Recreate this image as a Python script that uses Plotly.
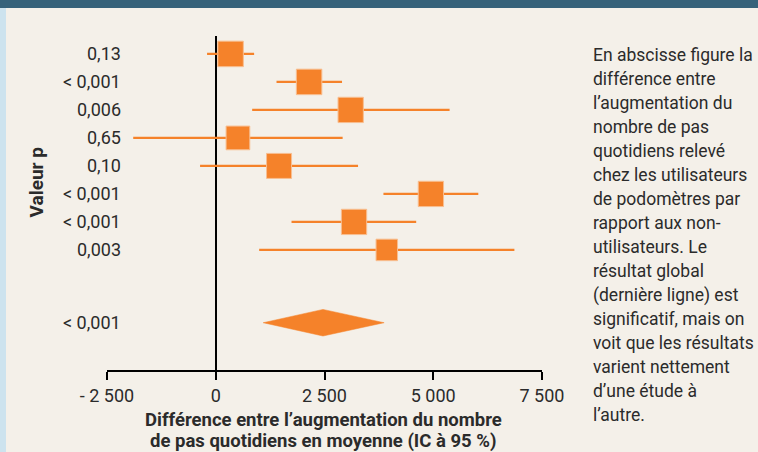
import plotly.graph_objects as go

# ---- data ----
p_values = ["0,13", "< 0,001", "0,006", "0,65", "0,10", "< 0,001", "< 0,001", "0,003"]
estimates = [341, 2146, 3102, 510, 1455, 4946, 3179, 3932]
ci_low = [-200, 1397, 837, -1898, -361, 3855, 1742, 998]
ci_high = [882, 2903, 5376, 2917, 3271, 6036, 4608, 6866]
weights = [25.5, 25.5, 25.3, 23.7, 25.0, 25.3, 25.3, 21.5]
rows = [1, 2, 3, 4, 5, 6, 7, 8]

overall_p = "< 0,001"
overall_est = 2465
overall_low = 1090
overall_high = 3871
overall_row = 10.6

x_tickvals = [-2500, 0, 2500, 5000, 7500]
x_ticktext = ["- 2 500", "0", "2 500", "5 000", "7 500"]

x_title_lines = [
    "Différence entre l’augmentation du nombre",
    "de pas quotidiens en moyenne (IC à 95 %)",
]
y_title = "Valeur p"

side_text = [
    "En abscisse figure la",
    "différence entre",
    "l’augmentation du",
    "nombre de pas",
    "quotidiens relevé",
    "chez les utilisateurs",
    "de podomètres par",
    "rapport aux non-",
    "utilisateurs. Le",
    "résultat global",
    "(dernière ligne) est",
    "significatif, mais on",
    "voit que les résultats",
    "varient nettement",
    "d’une étude à",
    "l’autre.",
]

# ---- style ----
ORANGE = "#F5822A"
BG = "#F4F0E9"
TXT = "#2B2B2B"
W, H = 758, 452
ML, MR, MT, MB = 107, 216, 36, 82
PW, PH = W - ML - MR, H - MT - MB
ROW_PX = 28.0
Y_TOP = 0.36
Y_BOT = Y_TOP + PH / ROW_PX


def px_x(px):
    return (px - ML) / PW


def px_y(py):
    return (H - MB - py) / PH


fig = go.Figure()

fig.add_trace(go.Scatter(
    x=estimates, y=rows, mode="markers",
    marker=dict(symbol="square", size=weights, color=ORANGE, opacity=1,
                line=dict(color="#F8BE90", width=1)),
    error_x=dict(type="data", symmetric=False,
                 array=[h - e for h, e in zip(ci_high, estimates)],
                 arrayminus=[e - l for e, l in zip(estimates, ci_low)],
                 thickness=2.2, width=0, color=ORANGE),
    showlegend=False, hoverinfo="skip",
))

dh = 13.3 / ROW_PX
fig.add_trace(go.Scatter(
    x=[overall_low, overall_est, overall_high, overall_est, overall_low],
    y=[overall_row, overall_row - dh, overall_row, overall_row + dh, overall_row],
    mode="lines", fill="toself", fillcolor=ORANGE,
    line=dict(color=ORANGE, width=0.5),
    showlegend=False, hoverinfo="skip",
))

annotations = []
for p, r in zip(p_values + [overall_p], rows + [overall_row]):
    annotations.append(dict(
        x=px_x(123), xref="paper", y=r, yref="y", text=p, showarrow=False,
        xanchor="right", yanchor="middle",
        font=dict(family="Roboto", size=18, color=TXT),
    ))

annotations.append(dict(
    x=px_x(36), xref="paper", y=px_y(182.5), yref="paper",
    text="<b>" + y_title + "</b>", textangle=-90, showarrow=False,
    xanchor="center", yanchor="middle",
    font=dict(family="Roboto", size=19, color=TXT),
))

for i, line in enumerate(x_title_lines):
    annotations.append(dict(
        x=px_x(323), xref="paper", y=px_y(419.5 + 21 * i), yref="paper",
        text="<b>" + line + "</b>", showarrow=False,
        xanchor="center", yanchor="middle", borderpad=0,
        font=dict(family="Roboto", size=18.5, color=TXT),
    ))

for i, line in enumerate(side_text):
    annotations.append(dict(
        x=px_x(591), xref="paper", y=px_y(55 + 24.0 * i), yref="paper",
        text=line, showarrow=False, xanchor="left", yanchor="middle",
        font=dict(family="Roboto", size=17.5, color=TXT),
    ))

shapes = [
    dict(type="rect", xref="paper", yref="paper",
         x0=px_x(0), x1=px_x(W), y0=px_y(8), y1=px_y(0),
         fillcolor="#36627A", line=dict(width=0), layer="above"),
    dict(type="rect", xref="paper", yref="paper",
         x0=px_x(0), x1=px_x(6), y0=px_y(H), y1=px_y(8),
         fillcolor="#CDE3EE", line=dict(width=0), layer="above"),
]

fig.update_layout(
    width=W, height=H,
    margin=dict(l=ML, r=MR, t=MT, b=MB, pad=0),
    paper_bgcolor=BG, plot_bgcolor=BG,
    xaxis=dict(range=[-2500.5, 7500.5], tickvals=x_tickvals, ticktext=x_ticktext,
               showgrid=False, zeroline=True, zerolinecolor="black", zerolinewidth=2,
               showline=True, linecolor="black", linewidth=2,
               ticks="outside", ticklen=8, tickwidth=2, tickcolor="black",
               tickfont=dict(family="Roboto", size=18, color=TXT),
               fixedrange=True),
    yaxis=dict(range=[Y_BOT, Y_TOP], showgrid=False, zeroline=False,
               showticklabels=False, showline=False, ticks="", fixedrange=True),
    annotations=annotations, shapes=shapes,
)

fig.write_html(
    "out.html",
    config={"displayModeBar": False},
    post_script="document.body.style.margin='0';document.body.style.overflow='hidden';",
)
